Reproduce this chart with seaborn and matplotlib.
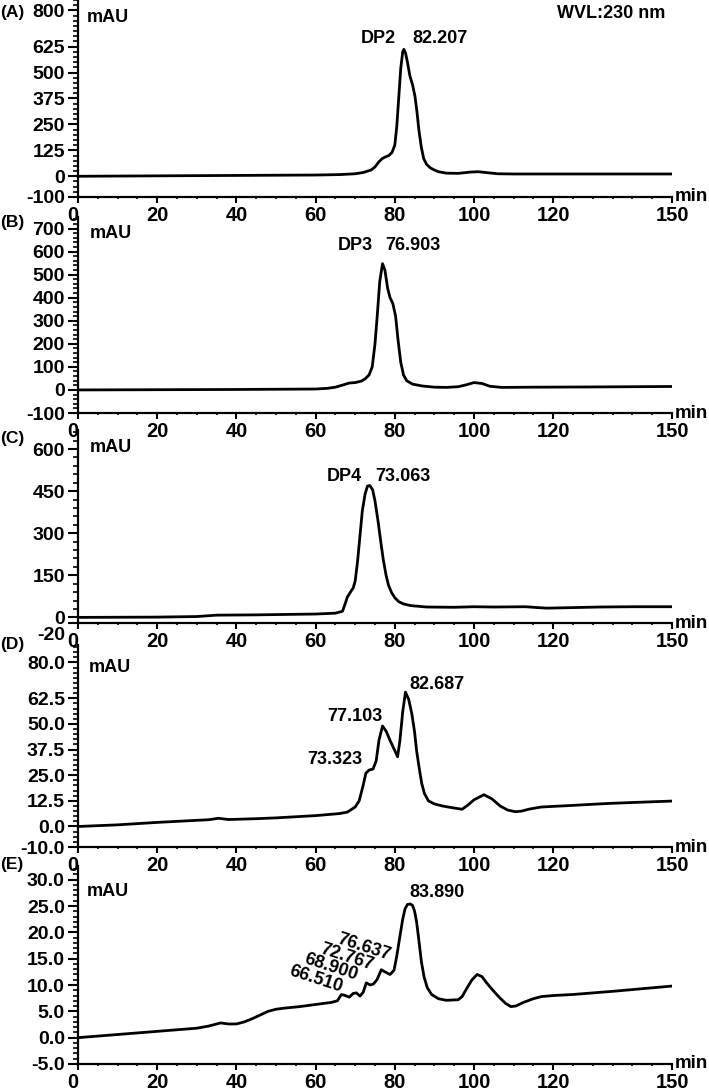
import matplotlib
matplotlib.use("Agg")
import matplotlib.pyplot as plt
import matplotlib.transforms as mtransforms
import seaborn as sns
from matplotlib.ticker import MultipleLocator, FixedLocator, FormatStrFormatter

# ---- data (time in min, signal in mAU) ----
a_time = [0, 10, 20, 30, 40, 50, 60, 66, 70, 72, 74, 75, 76, 76.8, 77.5, 78.5, 79.3, 80,
          80.5, 81, 81.5, 82, 82.3, 82.7, 83.2, 83.8, 84.5, 85.1, 85.6, 86.1, 86.7, 87.3,
          88, 89, 90, 91, 93, 96, 99, 101, 103, 106, 110, 130, 150]
a_mau = [0, 1, 2, 3, 4, 5, 6, 8, 12, 18, 30, 45, 70, 85, 92, 100, 115, 150,
         240, 380, 520, 600, 612, 595, 550, 485, 440, 385, 310, 220, 140, 85,
         58, 40, 30, 22, 15, 14, 20, 22, 18, 12, 11, 11, 11]

b_time = [0, 20, 40, 60, 63, 65, 67, 68.5, 70, 71.5, 72.5, 73.5, 74.3, 75, 75.6, 76.2,
          76.9, 77.5, 78.2, 78.8, 79.5, 80.2, 80.8, 81.5, 82.2, 83, 84.5, 87, 90, 93,
          96, 98, 100, 102, 104, 107, 115, 130, 150]
b_mau = [0, 1, 2, 4, 7, 12, 22, 30, 32, 38, 48, 65, 100, 200, 330, 470,
         548, 520, 440, 400, 375, 320, 220, 120, 65, 40, 25, 17, 12, 11,
         14, 22, 32, 28, 16, 11, 12, 13, 15]

c_time = [0, 20, 30, 35, 45, 60, 65, 66.8, 67.5, 68, 68.7, 69.5, 70, 70.6, 71.2, 71.8,
          72.5, 73.1, 73.7, 74.4, 75, 75.8, 76.5, 77.1, 77.8, 78.4, 79.2, 80, 81, 82.2,
          84, 88, 95, 100, 105, 113, 116, 118.4, 122, 131.8, 140, 150]
c_mau = [0, 1, 3, 8, 9, 12, 15, 22, 50, 72, 88, 105, 130, 200, 290, 380,
         440, 468, 470, 455, 415, 340, 265, 205, 150, 115, 88, 70, 56, 48,
         42, 37, 36, 38, 37, 38, 35, 33, 34, 37, 38, 38]

d_time = [0, 10, 20, 30, 33, 35.5, 38, 45, 50, 60, 66, 68, 70, 71, 72, 72.7, 73.5, 74.5,
          75.3, 76, 76.9, 77.8, 78.8, 80, 80.7, 81.3, 82, 82.7, 83.5, 84.3, 85, 85.5,
          86.2, 86.8, 87.5, 88.5, 90, 92, 95, 97, 98.5, 100, 102.5, 104.5, 106.6, 108.5,
          110.5, 112, 114, 117, 125, 133.5, 140, 150]
d_mau = [0, 0.8, 2.0, 3.0, 3.3, 4.0, 3.4, 3.8, 4.2, 5.3, 6.3, 7.0, 9.5, 12.5, 20, 26, 27.5, 28,
         32, 42, 49, 46.5, 42, 37, 34, 42, 56, 65.5, 62, 55, 46, 37,
         28, 21, 16, 12.5, 11, 10, 9, 8.4, 10.5, 13, 15.5, 13.5, 10, 8,
         7.2, 7.5, 8.5, 9.5, 10.3, 11.2, 11.7, 12.4]

e_time = [0, 10, 20, 30, 33, 36, 38, 40, 42, 44, 46, 48, 50, 52, 56, 60, 64, 65.5, 66.5,
          67.5, 68.5, 69.5, 70.3, 71.2, 72, 72.8, 73.8, 74.6, 75.5, 76.6, 77.5, 78.8,
          79.8, 80.5, 81.3, 82, 82.6, 83.2, 83.9, 84.5, 85, 85.5, 86, 86.7, 87.4, 88.2,
          89.3, 91, 93, 96, 97, 98.2, 99.5, 100.8, 102, 103.2, 105, 106.6, 108, 109.3,
          110.5, 112.5, 115, 117, 120, 125, 135, 150]
e_mau = [0, 0.6, 1.2, 1.8, 2.2, 2.8, 2.6, 2.6, 3.0, 3.6, 4.3, 5.0, 5.4, 5.6, 5.9, 6.3, 6.7, 7.0, 8.2,
         8.0, 7.7, 8.4, 8.5, 7.9, 8.6, 10.4, 10.0, 10.2, 11.0, 12.9, 12.5, 12.0,
         12.8, 15.5, 19.3, 22.5, 24.5, 25.3, 25.4, 25.1, 24.0, 22.0, 19.0, 14.5, 11.5, 9.5,
         8.2, 7.4, 7.1, 7.2, 7.8, 9.4, 11.0, 12.0, 11.6, 10.4, 8.8, 7.5, 6.5, 5.9,
         6.0, 6.7, 7.4, 7.8, 8.0, 8.2, 8.8, 9.8]

x_ticks = [0, 20, 40, 60, 80, 100, 120, 150]
a_yticks = [-100, 0, 125, 250, 375, 500, 625, 800]
b_yticks = [-100, 0, 100, 200, 300, 400, 500, 600, 700]
c_yticks = [-20, 0, 150, 300, 450, 600]
d_yticks = [-10, 0, 12.5, 25, 37.5, 50, 62.5, 80]
e_yticks = [-5, 0, 5, 10, 15, 20, 25, 30]

panel_letters = ["(A)", "(B)", "(C)", "(D)", "(E)"]

sns.set_style("ticks")
plt.rcParams['font.family'] = ['Liberation Sans', 'DejaVu Sans']
plt.rcParams['font.weight'] = 'bold'
for key in ['text.color', 'xtick.color', 'ytick.color', 'axes.edgecolor',
            'axes.labelcolor']:
    plt.rcParams[key] = 'black'

W, H = 709, 1091
fig = plt.figure(figsize=(W / 100, H / 100), dpi=100)

def rect(top, bottom, left=78, right=672):
    return [left / W, 1 - bottom / H, (right - left) / W, (bottom - top) / H]

def fig_text(x, y, s, **kw):
    fig.text(x / W, 1 - y / H, s, fontweight='bold', color='black', **kw)

# (pixel top, pixel bottom, ylim, yticks, minor step, decimals, data)
panels = [
    (0, 197, (-100, 850), a_yticks, 25, False, a_time, a_mau),
    (217, 413, (-100, 750), b_yticks, 20, False, b_time, b_mau),
    (430, 623, (-20, 668), c_yticks, 30, False, c_time, c_mau),
    (645, 847, (-10, 88.5), d_yticks, 2.5, True, d_time, d_mau),
    (866, 1064, (-5, 32.6), e_yticks, 1, True, e_time, e_mau),
]

axes = []
for top, bottom, ylim, yticks, minor, dec, t, v in panels:
    ax = fig.add_axes(rect(top, bottom))
    sns.lineplot(x=t, y=v, ax=ax, color='black', linewidth=2.0)
    ax.set_xlim(0, 150)
    ax.set_ylim(*ylim)
    ax.xaxis.set_major_locator(FixedLocator(x_ticks))
    ax.xaxis.set_minor_locator(MultipleLocator(5))
    ax.yaxis.set_major_locator(FixedLocator(yticks))
    ax.yaxis.set_minor_locator(MultipleLocator(minor))
    ax.yaxis.set_major_formatter(FormatStrFormatter('%.1f' if dec else '%d'))
    sns.despine(ax=ax)
    for s in ['left', 'bottom']:
        ax.spines[s].set_linewidth(1.6)
        ax.spines[s].set_color('black')
    ax.tick_params(axis='y', which='major', length=7, width=1.5, pad=2.5, labelsize=14)
    ax.tick_params(axis='y', which='minor', length=3.5, width=1.2)
    ax.tick_params(axis='x', which='major', length=4, width=1.5, pad=2.5, labelsize=14.5)
    ax.tick_params(axis='x', which='minor', length=1.5, width=1.2)
    ax.set_xlabel('')
    ax.set_ylabel('')
    ax.patch.set_alpha(0)
    ax.text(1.004, 0, 'min', transform=ax.transAxes, ha='left', va='center',
            fontsize=13.5, fontweight='bold')
    axes.append(ax)

fig.canvas.draw()
for ax in axes:
    for lab in ax.get_xticklabels() + ax.get_yticklabels():
        lab.set_fontweight('bold')
    # the 0 label on x sits left of the y axis
    ax.get_xticklabels()[0].set_ha('right')

# in panel C the -20 label hangs just under the axis line
low = axes[2].get_yticklabels()[0]
low.set_va('top')
low.set_transform(low.get_transform() +
                  mtransforms.ScaledTranslation(0, -3 / 72, fig.dpi_scale_trans))

# panel letters and unit labels
for (lx, ly), letter in zip([(12, 12), (12, 222), (12, 439), (12, 645), (12, 865)], panel_letters):
    fig_text(lx, ly, letter, ha='center', va='center', fontsize=12.5)
for mx, my in [(108, 18), (111, 233), (111, 447), (110, 667), (108, 892)]:
    fig_text(mx, my, 'mAU', ha='center', va='center', fontsize=13)
fig_text(611, 14, 'WVL:230 nm', ha='center', va='center', fontsize=13)

# peak annotations
lab = dict(ha='center', va='center', fontsize=13, fontweight='bold')
axes[0].text(75.8, 664, 'DP2', **lab)
axes[0].text(91.4, 664, '82.207', **lab)
axes[1].text(70.0, 628, 'DP3', **lab)
axes[1].text(84.6, 628, '76.903', **lab)
axes[2].text(67.2, 501, 'DP4', **lab)
axes[2].text(82.1, 501, '73.063', **lab)
axes[3].text(90.6, 69.0, '82.687', **lab)
axes[3].text(70.0, 53.7, '77.103', **lab)
axes[3].text(64.8, 32.7, '73.323', **lab)
axes[4].text(90.6, 27.5, '83.890', **lab)
for tx, ty, s in [(60.1, 11.0, '66.510'), (63.9, 13.3, '68.900'),
                  (67.9, 15.2, '72.767'), (72.2, 17.1, '76.637')]:
    axes[4].text(tx, ty, s, rotation=-18, rotation_mode='anchor', **lab)

fig.savefig('out.png', dpi=100)
